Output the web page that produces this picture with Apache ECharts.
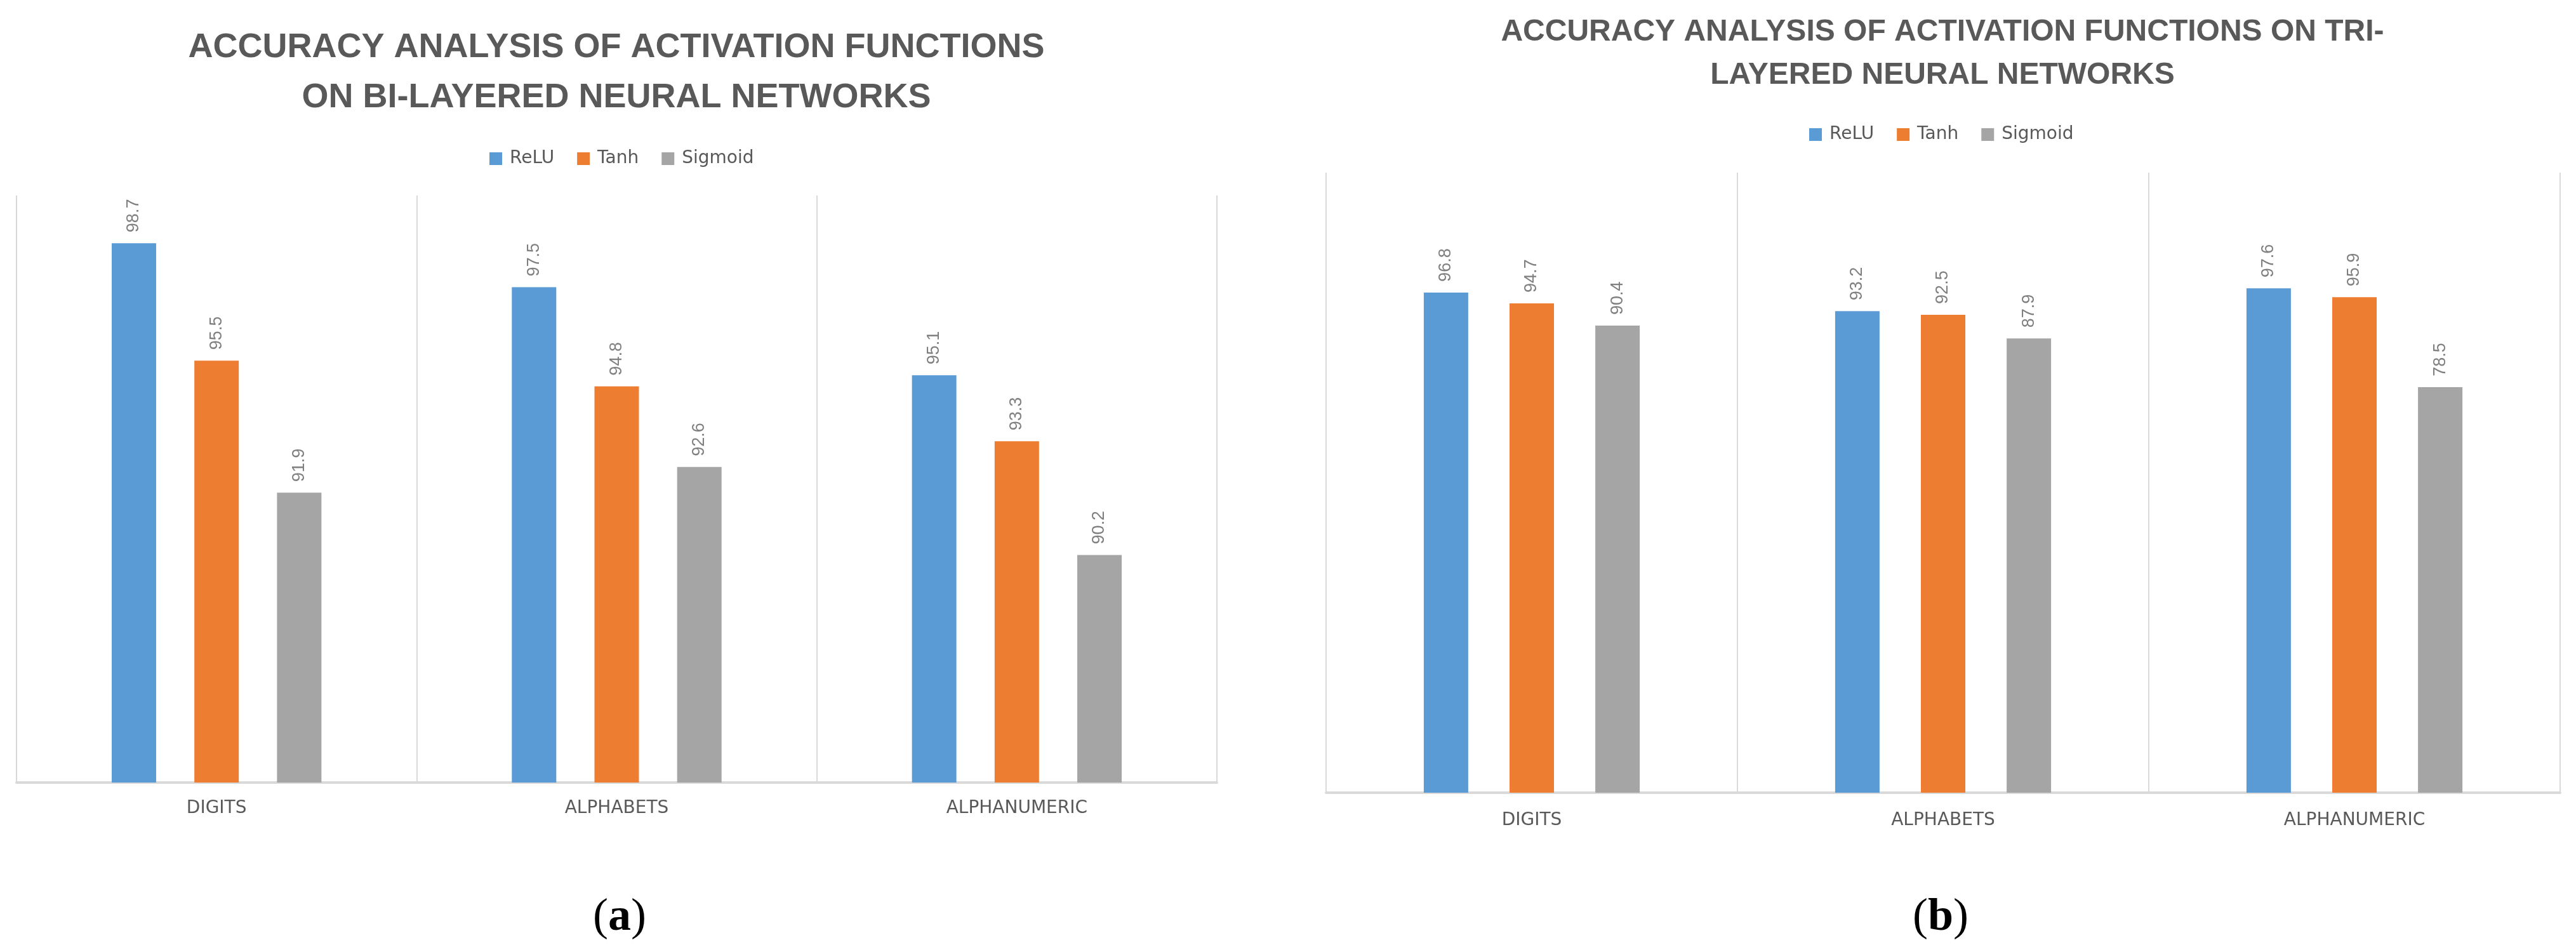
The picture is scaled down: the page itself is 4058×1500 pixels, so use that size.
<!DOCTYPE html>
<html>
<head>
<meta charset="utf-8">
<style>
  html, body { margin: 0; padding: 0; background: #ffffff; }
  #chart { width: 4058px; height: 1500px; }
</style>
<script src="https://cdn.jsdelivr.net/npm/echarts@6/dist/echarts.min.js"></script>
</head>
<body>
<div id="chart"></div>
<script>
// ---- Data ----
const categories = ['DIGITS', 'ALPHABETS', 'ALPHANUMERIC'];
const seriesNames = ['ReLU', 'Tanh', 'Sigmoid'];

// (a) Bi-layered networks
const biReLU    = [98.7, 97.5, 95.1];
const biTanh    = [95.5, 94.8, 93.3];
const biSigmoid = [91.9, 92.6, 90.2];

// (b) Tri-layered networks
const triReLU    = [96.8, 93.2, 97.6];
const triTanh    = [94.7, 92.5, 95.9];
const triSigmoid = [90.4, 87.9, 78.5];

const titleA = 'ACCURACY ANALYSIS OF ACTIVATION FUNCTIONS\nON BI-LAYERED NEURAL NETWORKS';
const titleB = 'ACCURACY ANALYSIS OF ACTIVATION FUNCTIONS ON TRI-\nLAYERED NEURAL NETWORKS';

// ---- Styles ----
const colors = ['#5b9bd5', '#ed7d31', '#a5a5a5'];
const textGray = '#595959';
const lineGray = '#d9d9d9';

const chart = echarts.init(document.getElementById('chart'), null, { renderer: 'canvas' });

function barSeries(name, data, idx, color, gap) {
  return {
    name: name,
    type: 'bar',
    xAxisIndex: idx,
    yAxisIndex: idx,
    data: data,
    barWidth: 70,
    barGap: gap,
    itemStyle: { color: color },
    label: {
      show: true,
      position: 'top',
      distance: 17,
      rotate: 90,
      align: 'left',
      verticalAlign: 'middle',
      fontSize: 27,
      fontFamily: 'Liberation Sans, Arial, sans-serif',
      color: '#7f7f7f'
    }
  };
}

function xAxisFor(idx, margin) {
  return {
    type: 'category',
    gridIndex: idx,
    data: categories,
    boundaryGap: true,
    axisLine: { show: true, lineStyle: { color: lineGray, width: 4 } },
    axisTick: { show: false },
    splitLine: { show: true, lineStyle: { color: lineGray, width: 2 } },
    axisLabel: {
      margin: margin,
      fontSize: 28,
      fontFamily: 'DejaVu Sans, sans-serif',
      color: textGray
    }
  };
}

const legendCommon = {
  data: seriesNames,
  itemWidth: 20,
  itemHeight: 20,
  itemGap: 36,
  icon: 'rect',
  textStyle: {
    fontSize: 28,
    fontFamily: 'DejaVu Sans, sans-serif',
    color: textGray,
    padding: [0, 0, 0, 7]
  }
};

function captionRich() {
  return {
    fontWeight: 'normal',
    rich: {
      p: { fontSize: 72, fontWeight: 'normal', fontFamily: 'Liberation Serif, Times New Roman, serif', color: '#000000', lineHeight: 72 },
      b: { fontSize: 72, fontWeight: 'bold', fontFamily: 'Liberation Serif, Times New Roman, serif', color: '#000000', lineHeight: 72 }
    }
  };
}

const option = {
  backgroundColor: '#ffffff',
  animation: false,
  title: [
    {
      text: titleA,
      left: 971,
      top: 36,
      padding: 0,
      textAlign: 'center',
      textStyle: {
        fontSize: 54,
        fontWeight: 'bold',
        fontFamily: 'Liberation Sans, Arial, sans-serif',
        color: textGray,
        lineHeight: 79
      }
    },
    {
      text: titleB,
      left: 3060,
      top: 17,
      padding: 0,
      textAlign: 'center',
      textStyle: {
        fontSize: 48,
        fontWeight: 'bold',
        fontFamily: 'Liberation Sans, Arial, sans-serif',
        color: textGray,
        lineHeight: 68
      }
    },
    {
      text: '{p|(}{b|a}{p|)}',
      left: 976,
      top: 1410,
      padding: 0,
      textAlign: 'center',
      textStyle: captionRich()
    },
    {
      text: '{p|(}{b|b}{p|)}',
      left: 3057,
      top: 1410,
      padding: 0,
      textAlign: 'center',
      textStyle: captionRich()
    }
  ],
  legend: [
    Object.assign({}, legendCommon, { left: 771, top: 236, padding: 0 }),
    Object.assign({}, legendCommon, { left: 2850, top: 198, padding: 0 })
  ],
  grid: [
    { left: 26, top: 308, width: 1891, height: 925, containLabel: false },
    { left: 2089, top: 272, width: 1944, height: 977, containLabel: false }
  ],
  xAxis: [xAxisFor(0, 27), xAxisFor(1, 30)],
  yAxis: [
    { type: 'value', gridIndex: 0, min: 84, max: 100, show: false, splitLine: { show: false } },
    { type: 'value', gridIndex: 1, min: 0, max: 120, show: false, splitLine: { show: false } }
  ],
  series: [
    barSeries('ReLU', biReLU, 0, colors[0], '86%'),
    barSeries('Tanh', biTanh, 0, colors[1], '86%'),
    barSeries('Sigmoid', biSigmoid, 0, colors[2], '86%'),
    barSeries('ReLU', triReLU, 1, colors[0], '93%'),
    barSeries('Tanh', triTanh, 1, colors[1], '93%'),
    barSeries('Sigmoid', triSigmoid, 1, colors[2], '93%')
  ]
};

chart.setOption(option);
</script>
</body>
</html>
